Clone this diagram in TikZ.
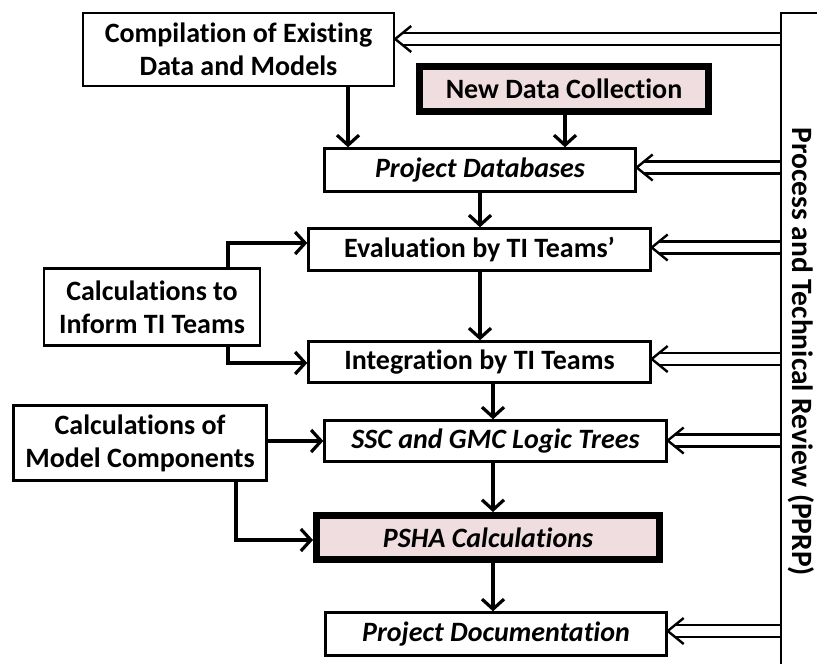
\documentclass[tikz,border=0pt]{standalone}
\usepackage{fontspec}
\setmainfont{Carlito}[Ligatures=NoCommon]
\usetikzlibrary{arrows.meta,calc}
\definecolor{boxpink}{RGB}{240,221,223}
\newcommand\diagfont{\fontsize{28}{33}\selectfont\bfseries}
\tikzset{
  box/.style={draw, line width=2.4pt, inner sep=0pt, align=center, font=\diagfont},
  keybox/.style={box, line width=7pt, fill=boxpink},
  arr/.style={line width=3.2pt, -{Straight Barb[length=10pt, width=22pt]}},
  revline/.style={line width=2.4pt},
}
% double "review" arrow from the PPRP bar to a box, at height #2
\newcommand\revto[2]{%
  \coordinate (ry) at (0,#2);
  \draw[revline] ($(#1.east |- ry)+(7.5,-6)$) -- ($(pprp.west |- ry)+(0,-6)$)
                 ($(#1.east |- ry)+(7.5,6)$) -- ($(pprp.west |- ry)+(0,6)$);
  \draw[revline, line join=miter] ($(#1.east |- ry)+(16,-13)$) -- (#1.east |- ry) -- ($(#1.east |- ry)+(16,13)$);
}
\begin{document}
\begin{tikzpicture}[x=1pt, y=-1pt]
\fill[white] (0,0) rectangle (817,664);
\useasboundingbox (0,0) rectangle (817,664);

% main flow boxes
\node[box, minimum width=311pt, minimum height=73pt] (comp) at (238.5,49.5) {Compilation of Existing\\Data and Models};
\node[keybox, minimum width=289pt, minimum height=45pt] (newdata) at (564,89) {New Data Collection};
\node[box, minimum width=311pt, minimum height=43pt, font=\diagfont\itshape] (pdb) at (480,170) {Project Databases};
\node[box, minimum width=342pt, minimum height=42pt] (eval) at (479.5,249.5) {Evaluation by TI Teams’};
\node[box, minimum width=216pt, minimum height=77pt] (calcinf) at (152,307) {Calculations to\\Inform TI Teams};
\node[box, minimum width=342pt, minimum height=41pt] (integ) at (479.5,362) {Integration by TI Teams};
\node[box, minimum width=253pt, minimum height=75pt] (calcmod) at (140,443) {Calculations of\\Model Components};
\node[box, minimum width=342pt, minimum height=41pt, font=\diagfont\itshape] (ssc) at (495.5,441) {SSC and GMC Logic Trees};
\node[keybox, minimum width=343pt, minimum height=44pt, font=\diagfont\itshape] (psha) at (488,537.5) {PSHA Calculations};
\node[box, minimum width=341pt, minimum height=43pt, font=\diagfont\itshape] (doc) at (496,634) {Project Documentation};

% review bar on the right
\node[draw, line width=2.4pt, minimum width=80pt, minimum height=700pt, anchor=north west] (pprp) at (780,12) {};
\node[font=\fontsize{29.5}{34}\selectfont\bfseries, rotate=-90] (pprptext) at (801,352) {Process and Technical Review (PPRP)};

% column positions of the vertical arrows
\coordinate (xa) at (348,0);
\coordinate (xb) at (565,0);
\coordinate (xc) at (480,0);
\coordinate (xd) at (493,0);
\coordinate (ca) at (228,243);
\coordinate (cb) at (228,363);
\coordinate (cc) at (236,540);

\draw[arr] (comp.south -| xa) -- (pdb.north -| xa);
\draw[arr] (newdata.south -| xb) -- (pdb.north -| xb);
\draw[arr] (pdb.south -| xc) -- (eval.north -| xc);
\draw[arr] (eval.south -| xc) -- (integ.north -| xc);
\draw[arr] (calcinf.north -| ca) |- (eval.west |- ca);
\draw[arr] (calcinf.south -| cb) |- (integ.west |- cb);
\draw[arr] (integ.south -| xd) -- (ssc.north -| xd);
\draw[arr] (calcmod.east |- ssc.west) -- (ssc.west);
\draw[arr] (calcmod.south -| cc) |- (psha.west |- cc);
\draw[arr] (ssc.south -| xd) -- (psha.north -| xd);
\draw[arr] (psha.south -| xd) -- (doc.north -| xd);

% review feedback arrows
\revto{comp}{39}
\revto{pdb}{167.5}
\revto{eval}{247.5}
\revto{integ}{359}
\revto{ssc}{440.5}
\revto{doc}{631}
\end{tikzpicture}
\end{document}
